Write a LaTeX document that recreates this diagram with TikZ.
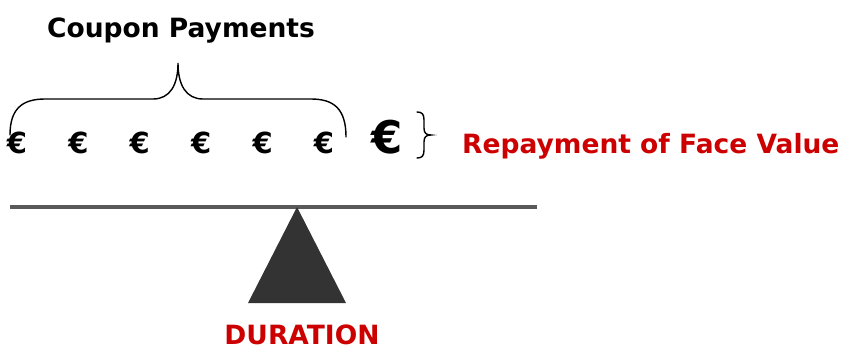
\documentclass[tikz,border=0pt]{standalone}
\usepackage{fontspec}
\setmainfont{DejaVu Sans}
\usepackage{tikz}
\usetikzlibrary{
  positioning,
  calc
}
\definecolor{durred}{HTML}{CC0000}
\definecolor{beamgray}{HTML}{5A5A5A}
\definecolor{pivotgray}{HTML}{333333}
\tikzstyle{label}=[font=\fontsize{26.5}{30}\selectfont\bfseries, inner sep=0pt]
\tikzstyle{redlabel}=[label, text=durred]
\tikzstyle{coin}=[font=\fontsize{29}{32}\selectfont\bfseries, inner sep=0pt, anchor=base]
\tikzstyle{bigcoin}=[font=\fontsize{45}{48}\selectfont\bfseries, inner sep=0pt, anchor=base]
\tikzstyle{bracket}=[line width=1.4pt, line cap=round]

\begin{document}
\begin{tikzpicture}[x=1pt, y=1pt]
    \useasboundingbox (0,0) rectangle (842,349);

    % Coupon Payments
    \node[label, anchor=base] (coupon) at (181,312) {Coupon Payments};

    % coupons
    \foreach \i in {1,...,6}
      \node[coin] (eur\i) at ({17+61.4*(\i-1)},196) {€};
    % face value
    \node[bigcoin] (face) at (387,196) {€};

    % brace over the coupons
    \coordinate (bl) at (10,214);
    \coordinate (br) at (346,212);
    \coordinate (tip) at (178,286);
    \draw[bracket] (bl) .. controls (10,240) and (22,250) .. (45,250) -- (153,250)
      .. controls (170,250) and (178,264) .. (tip)
      .. controls (178,264) and (186,250) .. (203,250) -- (311,250)
      .. controls (334,250) and (346,240) .. (br);

    % brace next to the face value
    \coordinate (ft) at (417,237);
    \coordinate (fb) at (417,191);
    \coordinate (ftip) at (431,214);
    \draw[bracket] (ft) .. controls (422,237) and (424,235) .. (424,229) -- (424,221)
      .. controls (424,216) and (426,214) .. (ftip)
      .. controls (426,214) and (424,212) .. (424,207) -- (424,199)
      .. controls (424,193) and (422,191) .. (fb);

    % Repayment of Face Value
    \node[redlabel, anchor=base west] (repay) at (462,196) {Repayment of Face Value};

    % beam and pivot
    \coordinate (L) at (10,142);
    \coordinate (R) at (537,142);
    \coordinate (top) at (297,142);
    \draw[beamgray, line width=4pt] (L) -- (R);
    \fill[pivotgray] (top) -- (346,46) -- (248,46) -- cycle;

    % DURATION
    \node[redlabel, anchor=base] (duration) at (302,5) {DURATION};
  \end{tikzpicture}
\end{document}
